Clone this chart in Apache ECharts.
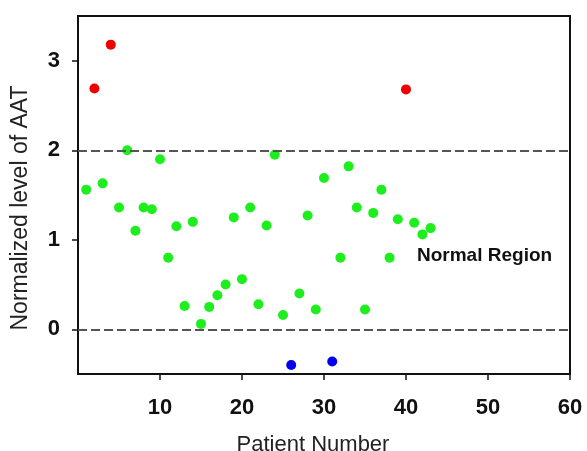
<!DOCTYPE html>
<html>
<head>
<meta charset="utf-8">
<script src="https://cdn.jsdelivr.net/npm/echarts@6/dist/echarts.min.js"></script>
<style>
  html, body { margin: 0; padding: 0; background: #fff; }
  #chart { width: 587px; height: 451px; }
</style>
</head>
<body>
<div id="chart"></div>
<script>
// patient number -> normalized AAT level
var patients = [1, 2, 3, 4, 5, 6, 7, 8, 9, 10, 11, 12, 13, 14, 15, 16, 17, 18, 19, 20, 21,
    22, 23, 24, 25, 26, 27, 28, 29, 30, 31, 32, 33, 34, 35, 36, 37, 38, 39, 40, 41, 42, 43];
var levels = [1.56, 2.69, 1.63, 3.18, 1.36, 2.00, 1.10, 1.36, 1.34, 1.90, 0.80, 1.15, 0.26,
    1.20, 0.06, 0.25, 0.38, 0.50, 1.25, 0.56, 1.36, 0.28, 1.16, 1.95, 0.16, -0.40, 0.40,
    1.27, 0.22, 1.69, -0.36, 0.80, 1.82, 1.36, 0.22, 1.30, 1.56, 0.80, 1.23, 2.68, 1.19,
    1.06, 1.13];
var normalLow = 0;
var normalHigh = 2;
var xTicks = [10, 20, 30, 40, 50, 60];
var yTicks = [0, 1, 2, 3];

// split into high / normal / low groups
var highPts = [], normalPts = [], lowPts = [];
for (var i = 0; i < patients.length; i++) {
    var p = [patients[i], levels[i]];
    if (levels[i] > normalHigh + 0.3) highPts.push(p);
    else if (levels[i] < normalLow) lowPts.push(p);
    else normalPts.push(p);
}

var labelFont = { color: '#111', fontSize: 22, fontWeight: 'bold', fontFamily: 'Liberation Sans' };

var myChart = echarts.init(document.getElementById('chart'));
var option = {
    animation: false,
    grid: {
        left: 78, right: 17, top: 16, bottom: 77,
        outerBoundsMode: 'none',
        containLabel: false,
        show: true, borderColor: '#111', borderWidth: 2
    },
    xAxis: {
        type: 'value',
        min: 0,
        max: 60,
        name: 'Patient Number',
        nameLocation: 'middle',
        nameGap: 60,
        nameTextStyle: { color: '#222', fontSize: 22, fontFamily: 'Liberation Sans', padding: [0, 22, 0, 0] },
        axisLine: { show: true, onZero: false, lineStyle: { color: '#111', width: 2 } },
        axisTick: { show: true, customValues: xTicks, length: 6, lineStyle: { color: '#111', width: 1.5 } },
        axisLabel: Object.assign({ customValues: xTicks, margin: 23 }, labelFont),
        splitLine: { show: false }
    },
    yAxis: {
        type: 'value',
        min: -0.5,
        max: 3.5,
        name: 'Normalized level of AAT',
        nameLocation: 'middle',
        nameGap: 46,
        nameTextStyle: { color: '#222', fontSize: 23, fontFamily: 'Liberation Sans', padding: [0, 26, 0, 0] },
        axisLine: { show: true, onZero: false, lineStyle: { color: '#111', width: 2 } },
        axisTick: { show: true, customValues: yTicks, length: 6, lineStyle: { color: '#111', width: 1.5 } },
        axisLabel: Object.assign({ customValues: yTicks, margin: 18 }, labelFont),
        splitLine: { show: false }
    },
    graphic: [{
        type: 'text',
        left: 417,
        top: 246,
        style: { text: 'Normal Region', fill: '#111', font: 'bold 19px "Liberation Sans"' }
    }],
    series: [{
        type: 'scatter',
        data: normalPts,
        symbolSize: 10,
        itemStyle: { color: '#1eee1e', opacity: 1 },
        markLine: {
            silent: true,
            symbol: 'none',
            label: { show: false },
            lineStyle: { color: '#555', width: 2, type: [9, 4] },
            data: [{ yAxis: normalLow }, { yAxis: normalHigh }]
        },
        z: 3
    }, {
        type: 'scatter',
        data: highPts,
        symbolSize: 10,
        itemStyle: { color: '#ee0000', opacity: 1 },
        z: 3
    }, {
        type: 'scatter',
        data: lowPts,
        symbolSize: 10,
        itemStyle: { color: '#0000ee', opacity: 1 },
        z: 3
    }]
};
myChart.setOption(option);
</script>
</body>
</html>
